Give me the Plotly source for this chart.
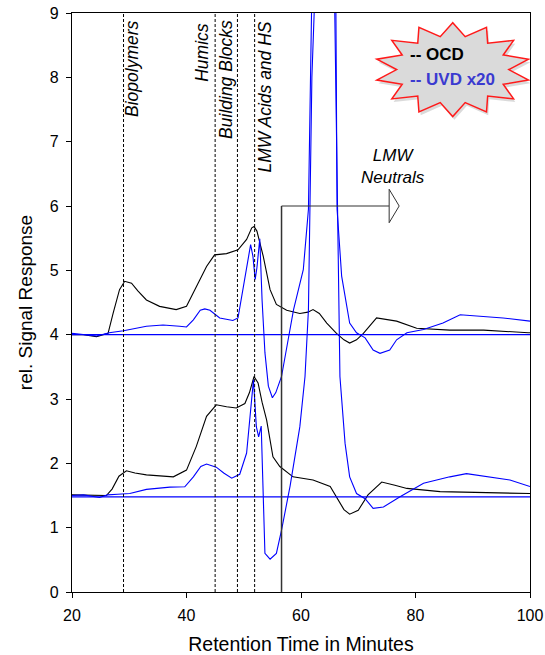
import numpy as np
import plotly.graph_objects as go

# ---------------- data ----------------
ocd_hi_x = [20, 22, 24.3, 26.3, 27.2, 28.3, 29.2, 30.4, 31.5, 33.0, 35.3, 38.2, 40.0, 41.7, 43.5, 44.9,
            47.0, 49.0, 50.5, 51.4, 51.8, 52.3, 53.4, 54.6, 55.7, 57.5, 59.8, 61.2, 62.1, 63.2, 64.5,
            66.2, 67.5, 68.5, 69.7, 70.9, 73.2, 76.7, 80.2, 86.0, 91.9, 99.7, 100]
ocd_hi_y = [4.0, 4.0, 3.97, 4.02, 4.34, 4.70, 4.83, 4.80, 4.68, 4.54, 4.44, 4.39, 4.44, 4.75, 5.06, 5.24,
            5.26, 5.32, 5.48, 5.66, 5.68, 5.61, 5.22, 4.70, 4.47, 4.38, 4.33, 4.35, 4.39, 4.33, 4.18,
            4.02, 3.92, 3.87, 3.92, 4.02, 4.26, 4.21, 4.10, 4.07, 4.07, 4.03, 4.03]

ocd_lo_x = [20, 24, 26.0, 27.0, 28.2, 29.5, 31.0, 33.0, 35.5, 37.7, 40.0, 41.7, 43.5, 45.2, 47.0, 48.7,
            50.2, 51.0, 51.8, 52.5, 53.2, 54.0, 55.1, 56.3, 58.6, 62.1, 65.1, 66.5, 67.5, 68.5, 70.0,
            71.7, 74.1, 76.4, 78.5, 84.3, 91.3, 100]
ocd_lo_y = [1.51, 1.5, 1.5, 1.6, 1.8, 1.885, 1.85, 1.82, 1.8, 1.79, 1.895, 2.26, 2.73, 2.91, 2.88, 2.86,
            2.93, 3.1, 3.35, 3.25, 2.95, 2.67, 2.10, 1.95, 1.79, 1.74, 1.64, 1.43, 1.28, 1.21, 1.27,
            1.51, 1.71, 1.66, 1.61, 1.56, 1.55, 1.53]

uvd_hi_x = [20, 22, 24.3, 26.5, 29.0, 33.0, 35.9, 38.8, 40.0, 41.2, 42.4, 43.2, 44.1, 45.8, 48.1, 49.0,
            49.9, 50.8, 51.2, 51.6, 52.0, 52.3, 52.8, 53.2, 53.7, 54.3, 55.0, 55.6, 56.6, 58.7, 60.4,
            61.3, 61.85, 63.8, 66.1, 66.3, 67.1, 68.5, 69.7, 71.2, 72.6, 73.8, 75.5, 76.7, 78.5, 81.4,
            84.8, 87.8, 91.9, 95.3, 100]
uvd_hi_y = [4.02, 4.0, 3.98, 4.03, 4.06, 4.13, 4.15, 4.13, 4.12, 4.23, 4.38, 4.40, 4.38, 4.26, 4.22, 4.26,
            4.75, 5.22, 5.40, 5.22, 4.86, 5.04, 5.49, 4.54, 3.72, 3.2, 3.02, 3.1, 3.35, 4.39, 5.01,
            5.95, 9.06, 13.0, 9.0, 5.95, 4.91, 4.18, 4.03, 3.95, 3.76, 3.71, 3.76, 3.92, 4.03, 4.08,
            4.18, 4.31, 4.28, 4.26, 4.21]

uvd_lo_x = [20, 22, 24.8, 26.2, 28.0, 30.1, 33.0, 37.1, 39.7, 41.2, 42.5, 43.5, 45.2, 46.5, 47.9, 49.3,
            50.5, 51.0, 51.4, 51.7, 52.2, 52.6, 53.05, 53.4, 53.7, 54.6, 55.7, 56.6, 58.1, 59.8, 60.7,
            61.3, 61.9, 63.9, 65.9, 66.8, 67.7, 68.5, 69.7, 71.2, 72.6, 74.4, 77.3, 81.4, 86.0, 88.9,
            93.0, 96.5, 100]
uvd_lo_y = [1.5, 1.51, 1.47, 1.51, 1.52, 1.53, 1.595, 1.63, 1.635, 1.79, 1.95, 1.99, 1.94, 1.85, 1.77, 1.83,
            2.16, 2.6, 2.99, 3.3, 2.57, 2.41, 2.58, 1.48, 0.6, 0.51, 0.6, 0.96, 1.65, 2.57, 3.35,
            4.39, 8.0, 13.0, 9.0, 3.35, 2.31, 1.79, 1.53, 1.45, 1.30, 1.32, 1.48, 1.69, 1.79, 1.84,
            1.79, 1.74, 1.64]

baselines = [4.0, 1.48]
fraction_x = [29.0, 45.0, 48.9, 51.9]
fraction_labels = ["Biopolymers", "Humics", "Building Blocks", "LMW Acids and HS"]
neutral_x = 56.6
neutral_top = 6.0
neutral_end = 75.4

x_ticks = [20, 40, 60, 80, 100]
y_ticks = list(range(0, 10))

FONT = "Liberation Sans, Arial, sans-serif"
BLUE = "#0000ff"

fig = go.Figure()

fig.add_trace(go.Scatter(x=ocd_hi_x, y=ocd_hi_y, mode="lines", line=dict(color="black", width=1.1), showlegend=False))
fig.add_trace(go.Scatter(x=ocd_lo_x, y=ocd_lo_y, mode="lines", line=dict(color="black", width=1.1), showlegend=False))
fig.add_trace(go.Scatter(x=uvd_hi_x, y=uvd_hi_y, mode="lines", line=dict(color=BLUE, width=1.1), showlegend=False))
fig.add_trace(go.Scatter(x=uvd_lo_x, y=uvd_lo_y, mode="lines", line=dict(color=BLUE, width=1.1), showlegend=False))

for yb in baselines:
    fig.add_trace(go.Scatter(x=[20, 100], y=[yb, yb], mode="lines",
                             line=dict(color=BLUE, width=1.3), hoverinfo="skip", showlegend=False))

shapes = []
for fx in fraction_x:
    shapes.append(dict(type="line", xref="x", yref="y", x0=fx, x1=fx, y0=0, y1=9,
                       line=dict(color="black", width=1, dash="3px,2px")))

# LMW neutrals bracket and arrow
shapes.append(dict(type="line", xref="x", yref="y", x0=neutral_x, x1=neutral_x, y0=0, y1=neutral_top,
                   line=dict(color="#333333", width=1.5)))
shapes.append(dict(type="line", xref="x", yref="y", x0=neutral_x, x1=neutral_end, y0=neutral_top, y1=neutral_top,
                   line=dict(color="#333333", width=1.2)))
ax0, ax1 = neutral_end, neutral_end + 1.75
shapes.append(dict(type="path", xref="x", yref="y",
                   path=f"M {ax0},{neutral_top+0.26} L {ax1},{neutral_top} L {ax0},{neutral_top-0.26} Z",
                   fillcolor="white", line=dict(color="#333333", width=1)))

# starburst legend
cx, cy = 86.5, 8.12
rx, ry = 13.6, 0.73
n = 14
ang = np.linspace(0, 2 * np.pi, 2 * n, endpoint=False) + np.pi / 2
rr = np.where(np.arange(2 * n) % 2 == 0, 1.0, 0.72)

def star_path(dx, dy):
    pts = [(cx + dx + rx * r * np.cos(a), cy + dy + ry * r * np.sin(a)) for a, r in zip(ang, rr)]
    return "M " + " L ".join(f"{px:.3f},{py:.3f}" for px, py in pts) + " Z"

shapes.append(dict(type="path", xref="x", yref="y", path=star_path(0.3, -0.05),
                   fillcolor="rgba(150,150,150,0.35)", line=dict(width=0), layer="above"))
shapes.append(dict(type="path", xref="x", yref="y", path=star_path(0, 0),
                   fillcolor="#dadada", line=dict(color="#ff1a1a", width=1.5), layer="above"))

annotations = []
label_pos = [(30.6, 8.14), (42.8, 8.39), (46.9, 7.96), (53.7, 7.70)]
for lab, (lx, ly) in zip(fraction_labels, label_pos):
    annotations.append(dict(x=lx, y=ly, xref="x", yref="y", text=f"<i>{lab}</i>", showarrow=False,
                            textangle=-90, xanchor="center", yanchor="middle",
                            font=dict(family=FONT, size=17.5, color="black")))
annotations.append(dict(x=76.1, y=6.61, xref="x", yref="y", text="<i>LMW<br>Neutrals</i>", showarrow=False,
                        xanchor="center", yanchor="middle", align="center",
                        font=dict(family=FONT, size=17, color="black")))
annotations.append(dict(x=78.7, y=8.36, xref="x", yref="y", text="<b>-- OCD</b>", showarrow=False,
                        xanchor="left", yanchor="middle", font=dict(family=FONT, size=17, color="black")))
annotations.append(dict(x=78.7, y=7.97, xref="x", yref="y", text="<b>-- UVD x20</b>", showarrow=False,
                        xanchor="left", yanchor="middle", font=dict(family=FONT, size=17, color="#3a3ad0")))

fig.update_layout(
    width=545, height=655,
    margin=dict(l=72, r=15, t=13, b=63, autoexpand=False),
    paper_bgcolor="white", plot_bgcolor="white",
    shapes=shapes, annotations=annotations,
    font=dict(family=FONT, size=16, color="black"),
    xaxis=dict(range=[20, 100], tickvals=x_ticks, ticks="outside", ticklen=5, tickcolor="black",
               showgrid=False, zeroline=False, showline=True, linecolor="black", linewidth=1.3, mirror=True,
               tickfont=dict(size=16), automargin=False, ticklabelstandoff=4, ticklabeloverflow="allow",
               title=dict(text="Retention Time in Minutes", font=dict(size=19.5), standoff=14)),
    yaxis=dict(range=[0, 9], tickvals=y_ticks, ticks="outside", ticklen=5, tickcolor="black",
               showgrid=False, zeroline=False, showline=True, linecolor="black", linewidth=1.3, mirror=True,
               tickfont=dict(size=16), automargin=False, ticklabelstandoff=4, ticklabeloverflow="allow",
               title=dict(text="rel. Signal Response", font=dict(size=19), standoff=12)),
)

# remove the default 8px page margin so the 545x655 figure fills the window exactly
fig.write_html("out.html", config={"displayModeBar": False},
               post_script="document.body.style.margin='0';document.body.style.overflow='hidden';")
